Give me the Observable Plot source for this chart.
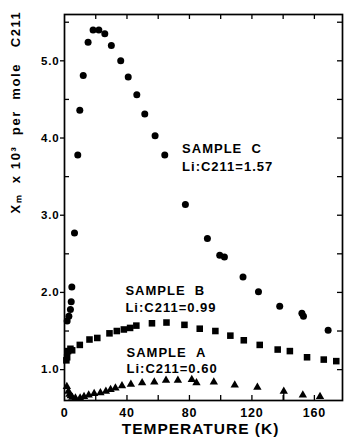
<!DOCTYPE html>
<html>
<head>
<meta charset="utf-8">
<script src="https://cdn.jsdelivr.net/npm/d3@7"></script>
<script src="https://cdn.jsdelivr.net/npm/@observablehq/plot@0.6"></script>
<style>
  html, body { margin: 0; padding: 0; background: #fff; }
</style>
</head>
<body>
<div id="chart"></div>
<script>
// Sample C (circles)
const tempC = [1.7, 2.8, 3.8, 4.3, 4.7, 6.4, 8.5, 9.8, 12.0, 15.1, 18.3, 22.0, 25.8, 30.0, 36.0, 40.8, 46.3, 51.4, 58.0, 64.2, 77.4, 91.5, 99.4, 102.4, 114.3, 124.2, 137.8, 152.0, 153.0, 168.8];
const chiC  = [1.63, 1.69, 1.78, 1.88, 2.07, 2.77, 3.78, 4.36, 4.81, 5.24, 5.40, 5.40, 5.35, 5.20, 5.00, 4.79, 4.56, 4.31, 4.03, 3.78, 3.14, 2.70, 2.48, 2.46, 2.20, 2.01, 1.82, 1.73, 1.69, 1.51];
// Sample B (squares)
const tempB = [1.2, 1.7, 2.3, 3.8, 4.9, 9.8, 16.0, 21.0, 28.8, 33.5, 38.0, 42.0, 46.0, 56.0, 65.3, 76.8, 86.6, 96.6, 106.2, 114.8, 125.0, 136.5, 144.3, 155.3, 166.0, 174.0];
const chiB  = [1.12, 1.16, 1.24, 1.27, 1.25, 1.32, 1.39, 1.41, 1.47, 1.50, 1.52, 1.54, 1.57, 1.60, 1.61, 1.58, 1.53, 1.50, 1.44, 1.38, 1.32, 1.26, 1.24, 1.16, 1.13, 1.11];
// Sample A (triangles)
const tempA = [1.5, 2.5, 3.2, 4.0, 5.0, 7.0, 10.0, 12.5, 15.5, 19.0, 23.0, 26.5, 29.5, 32.6, 36.8, 42.5, 49.7, 57.5, 65.0, 72.6, 81.5, 84.5, 95.6, 109.0, 123.5, 140.4, 152.6, 163.6];
const chiA  = [0.78, 0.72, 0.68, 0.66, 0.64, 0.63, 0.63, 0.65, 0.67, 0.69, 0.70, 0.72, 0.74, 0.76, 0.79, 0.81, 0.83, 0.84, 0.86, 0.86, 0.87, 0.83, 0.84, 0.80, 0.77, 0.72, 0.67, 0.65];
const stemT = [140.4];

// Axes / ticks
const xDomain = [0, 178];
const yDomain = [0.6, 5.6];
const xTickLabels = [0, 40, 80, 120, 160];
const xMinorTicks = [20, 40, 60, 80, 100, 120, 140, 160];
const yTickLabels = [1, 2, 3, 4, 5];
const yMinorTicks = [1.5, 2.5, 3.5, 4.5, 5.5];
const yAllTicks = [1, 1.5, 2, 2.5, 3, 3.5, 4, 4.5, 5, 5.5];

// Texts
const xTitle = "TEMPERATURE (K)";
const yTitle = "X\u2098\u00a0\u00a0x\u00a010\u00b3\u00a0\u00a0per\u00a0\u00a0mole\u00a0\u00a0\u00a0C211";
const labelNames = ["SAMPLE\u00a0\u00a0C", "Li:C211=1.57", "SAMPLE\u00a0\u00a0B", "Li:C211=0.99", "SAMPLE\u00a0\u00a0A", "Li:C211=0.60"];
const labelT = [75.3, 75.3, 39.0, 39.0, 39.7, 39.7];
const labelChi = [3.86, 3.63, 2.015, 1.805, 1.22, 1.01];

const W = 344, H = 437, mL = 64, mR = 2, mT = 14, mB = 37;
const fw = W - mL - mR, fh = H - mT - mB;

const C = tempC.map((t, i) => ({t, v: chiC[i]}));
const B = tempB.map((t, i) => ({t, v: chiB[i]}));
const A = tempA.map((t, i) => ({t, v: chiA[i]}));
const labels = labelNames.map((s, i) => ({s, t: labelT[i], v: labelChi[i]}));
const stems = stemT.map(t => ({t, v: chiA[tempA.indexOf(t)]}));

const tickLen = 5;

const chart = Plot.plot({
  width: W, height: H,
  marginLeft: mL, marginRight: mR, marginTop: mT, marginBottom: mB,
  x: {domain: xDomain},
  y: {domain: yDomain},
  style: {fontFamily: "'Liberation Sans', Arial, sans-serif", fontWeight: "bold", background: "white", color: "black", overflow: "visible"},
  marks: [
    Plot.ruleX(xMinorTicks, {insetTop: fh - tickLen, stroke: "black", strokeWidth: 1.3}),
    Plot.ruleX(xMinorTicks, {insetBottom: fh - tickLen, stroke: "black", strokeWidth: 1.3}),
    Plot.ruleY(yMinorTicks, {insetRight: fw - tickLen, stroke: "black", strokeWidth: 1.3}),
    Plot.ruleY(yAllTicks, {insetLeft: fw - tickLen, stroke: "black", strokeWidth: 1.3}),
    Plot.frame({stroke: "black", strokeWidth: 1.7}),
    Plot.axisX(xTickLabels, {tickSize: 0, tickPadding: 8, fontSize: 12.5, label: null, tickFormat: d => String(d)}),
    Plot.axisY(yTickLabels, {tickSize: 4, tickPadding: 1, fontSize: 11.5, label: null, tickFormat: d3.format(".1f"), strokeWidth: 1.3}),
    Plot.text([xTitle], {frameAnchor: "bottom", lineAnchor: "middle", dx: -3, dy: 29, fontSize: 15.5, text: d => d}),
    Plot.text([yTitle], {frameAnchor: "left", lineAnchor: "middle", rotate: -90, dx: -49, dy: 6, fontSize: 13, text: d => d}),
    Plot.ruleX(stems, {x: "t", y1: yDomain[0], y2: "v", stroke: "black", strokeWidth: 1.3}),
    Plot.dot(C, {x: "t", y: "v", r: 3.5, fill: "black", stroke: null}),
    Plot.dot(B, {x: "t", y: "v", r: 3.7, symbol: "square", fill: "black", stroke: null}),
    Plot.dot(A, {x: "t", y: "v", r: 3.1, symbol: "triangle", fill: "black", stroke: null}),
    Plot.text(labels, {x: "t", y: "v", text: "s", textAnchor: "start", lineAnchor: "middle", fontSize: 13})
  ]
});

document.getElementById("chart").appendChild(chart);

chart.querySelectorAll("text").forEach(el => {
  const s = el.textContent;
  if (s.startsWith("X")) el.style.letterSpacing = "1.6px";
  else if (s.startsWith("TEMP")) el.style.letterSpacing = "1px";
  else if (s.startsWith("SAMPLE") || s.startsWith("Li")) el.style.letterSpacing = "1px";
  else el.style.letterSpacing = "0.8px";
});
</script>
</body>
</html>
